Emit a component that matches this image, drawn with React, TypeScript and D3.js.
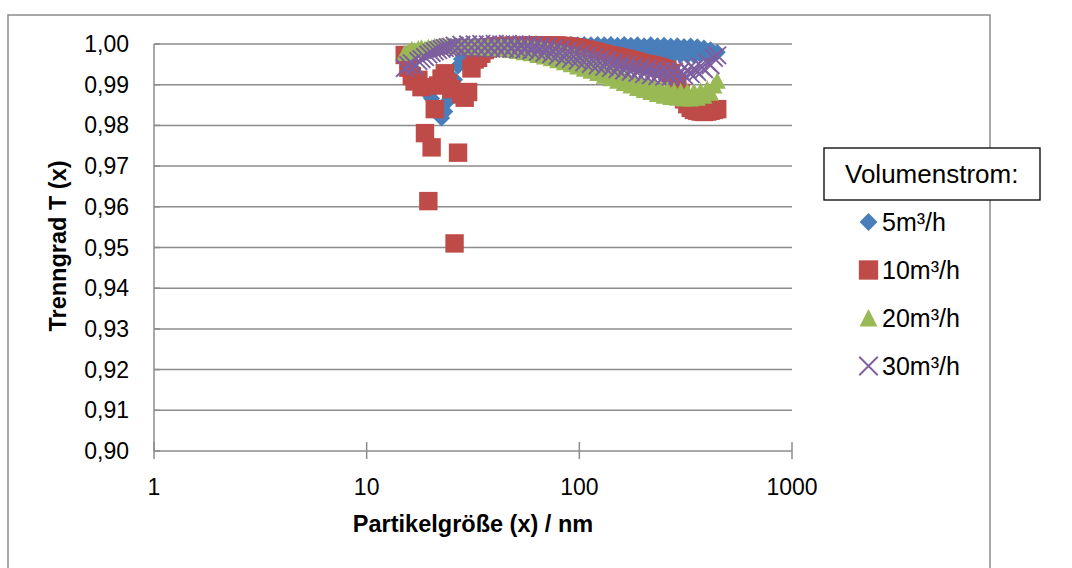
import React from 'react';
import * as d3 from 'd3';

// Particle size channels (nm)
const sizes = [
  15.1, 15.7, 16.3, 16.8, 17.5, 18.1, 18.8, 19.5, 20.2, 20.9,
  21.7, 22.5, 23.3, 24.1, 25.0, 25.9, 26.9, 27.9, 28.9, 30.0,
  31.1, 32.2, 33.4, 34.6, 35.9, 37.2, 38.5, 40.0, 41.4, 42.9,
  44.5, 46.1, 47.8, 49.6, 51.4, 53.3, 55.2, 57.3, 59.4, 61.5,
  63.8, 66.1, 68.5, 71.0, 73.7, 76.4, 79.1, 82.0, 85.1, 88.2,
  91.4, 94.7, 98.2, 101.8, 105.5, 109.4, 113.4, 117.6, 121.9, 126.3,
  131.0, 135.8, 140.7, 145.9, 151.2, 156.8, 162.5, 168.5, 174.7, 181.1,
  187.7, 194.6, 201.7, 209.1, 216.7, 224.7, 232.9, 241.4, 250.3, 259.5,
  269.0, 278.8, 289.0, 299.6, 310.6, 322.0, 333.8, 346.0, 358.7, 371.8,
  385.4, 399.5, 414.2, 429.4, 445.1,
];

// 5 m³/h
const blue5 = [
  0.9968, 0.9955, 0.9942, 0.9930, 0.9915, 0.9902, 0.9890, 0.9877, 0.9866, 0.9852,
  0.9836, 0.9818, 0.9834, 0.9860, 0.9886, 0.9912, 0.9946, 0.9963, 0.9975, 0.9983,
  0.9988, 0.9992, 0.9994, 0.9996, 0.9995, 0.9998, 0.9996, 0.9997, 0.9995, 0.9998,
  0.9996, 0.9998, 0.9995, 0.9997, 0.9999, 0.9996, 0.9998, 0.9995, 0.9999, 0.9996,
  0.9998, 0.9995, 0.9999, 0.9996, 0.9998, 0.9994, 0.9999, 0.9995, 0.9998, 0.9993,
  0.9999, 0.9994, 0.9998, 0.9992, 0.9999, 0.9993, 0.9998, 0.9991, 0.9999, 0.9990,
  0.9998, 0.9989, 0.9999, 0.9988, 0.9997, 0.9986, 0.9999, 0.9985, 0.9997, 0.9983,
  0.9998, 0.9982, 0.9996, 0.9980, 0.9998, 0.9978, 0.9996, 0.9977, 0.9997, 0.9975,
  0.9995, 0.9974, 0.9996, 0.9973, 0.9994, 0.9972, 0.9995, 0.9972, 0.9993, 0.9973,
  0.9990, 0.9974, 0.9986, 0.9976, 0.9980,
];

// 10 m³/h
const red10 = [
  0.9973, 0.9942, 0.9921, 0.9908, 0.9912, 0.9894, 0.9781, 0.9614, 0.9746, 0.9840,
  0.9898, 0.9915, 0.9928, 0.9903, 0.9889, 0.9510, 0.9733, 0.9876, 0.9868, 0.9882,
  0.9940, 0.9962, 0.9966, 0.9976, 0.9985, 0.9989, 0.9992, 0.9993, 0.9994, 0.9994,
  0.9995, 0.9995, 0.9995, 0.9995, 0.9995, 0.9995, 0.9995, 0.9996, 0.9996, 0.9996,
  0.9996, 0.9996, 0.9996, 0.9996, 0.9996, 0.9996, 0.9996, 0.9995, 0.9995, 0.9994,
  0.9993, 0.9992, 0.9990, 0.9989, 0.9987, 0.9985, 0.9983, 0.9981, 0.9979, 0.9977,
  0.9975, 0.9973, 0.9971, 0.9970, 0.9968, 0.9966, 0.9964, 0.9962, 0.9960, 0.9958,
  0.9956, 0.9953, 0.9951, 0.9950, 0.9948, 0.9946, 0.9944, 0.9941, 0.9939, 0.9936,
  0.9929, 0.9915, 0.9898, 0.9880, 0.9864, 0.9852, 0.9843, 0.9838, 0.9836, 0.9834,
  0.9833, 0.9834, 0.9836, 0.9838, 0.9840,
];

// 20 m³/h
const green20 = [
  0.9978, 0.9982, 0.9987, 0.9984, 0.9989, 0.9991, 0.9988, 0.9992, 0.9991, 0.9994,
  0.9993, 0.9996, 0.9994, 0.9997, 0.9995, 0.9997, 0.9995, 0.9998, 0.9994, 0.9997,
  0.9993, 0.9998, 0.9992, 0.9997, 0.9991, 0.9997, 0.9990, 0.9996, 0.9989, 0.9995,
  0.9987, 0.9994, 0.9985, 0.9993, 0.9983, 0.9991, 0.9980, 0.9990, 0.9977, 0.9988,
  0.9973, 0.9986, 0.9969, 0.9983, 0.9965, 0.9980, 0.9960, 0.9977, 0.9955, 0.9973,
  0.9950, 0.9968, 0.9945, 0.9963, 0.9939, 0.9958, 0.9934, 0.9952, 0.9929, 0.9946,
  0.9922, 0.9938, 0.9916, 0.9931, 0.9910, 0.9925, 0.9904, 0.9919, 0.9898, 0.9913,
  0.9892, 0.9907, 0.9887, 0.9901, 0.9882, 0.9896, 0.9877, 0.9892, 0.9873, 0.9889,
  0.9870, 0.9886, 0.9868, 0.9884, 0.9866, 0.9883, 0.9866, 0.9883, 0.9868, 0.9885,
  0.9873, 0.9890, 0.9880, 0.9898, 0.9910,
];

// 30 m³/h
const purple30 = [
  0.9941, 0.9948, 0.9953, 0.9946, 0.9958, 0.9963, 0.9968, 0.9974, 0.9978, 0.9982,
  0.9985, 0.9988, 0.9990, 0.9992, 0.9993, 0.9996, 0.9992, 0.9998, 0.9992, 0.9999,
  0.9991, 0.9999, 0.9990, 1.0000, 0.9990, 0.9999, 0.9989, 1.0000, 0.9989, 0.9999,
  0.9989, 1.0000, 0.9988, 0.9999, 0.9987, 0.9999, 0.9986, 0.9998, 0.9984, 0.9997,
  0.9981, 0.9995, 0.9978, 0.9993, 0.9975, 0.9990, 0.9971, 0.9987, 0.9967, 0.9983,
  0.9963, 0.9980, 0.9959, 0.9976, 0.9955, 0.9972, 0.9951, 0.9968, 0.9947, 0.9964,
  0.9944, 0.9960, 0.9941, 0.9956, 0.9938, 0.9952, 0.9935, 0.9949, 0.9932, 0.9945,
  0.9929, 0.9942, 0.9926, 0.9939, 0.9923, 0.9936, 0.9921, 0.9934, 0.9920, 0.9932,
  0.9920, 0.9932, 0.9921, 0.9933, 0.9923, 0.9936, 0.9926, 0.9940, 0.9931, 0.9946,
  0.9938, 0.9955, 0.9948, 0.9966, 0.9972,
];

const seriesNames = ['5m³/h', '10m³/h', '20m³/h', '30m³/h'];
const seriesColors = ['#4A7EBB', '#BE4B48', '#98B954', '#7D5FA0'];
const xTicks = [1, 10, 100, 1000];
const yTicks = [0.9, 0.91, 0.92, 0.93, 0.94, 0.95, 0.96, 0.97, 0.98, 0.99, 1.0];

const FONT = '"Liberation Sans", Arial, sans-serif';

type Shape = 'diamond' | 'square' | 'triangle' | 'x';
const shapes: Shape[] = ['diamond', 'square', 'triangle', 'x'];

function Marker({ shape, cx, cy, color, s = 1 }: { shape: Shape; cx: number; cy: number; color: string; s?: number }) {
  if (shape === 'diamond') {
    const h = 8.5 * s;
    return <path d={`M${cx},${cy - h}L${cx + h},${cy}L${cx},${cy + h}L${cx - h},${cy}Z`} fill={color} />;
  }
  if (shape === 'square') {
    const h = 9.2 * s;
    return <rect x={cx - h} y={cy - h} width={2 * h} height={2 * h} fill={color} />;
  }
  if (shape === 'triangle') {
    const w = 8.5 * s;
    return <path d={`M${cx},${cy - 8.5 * s}L${cx + w},${cy + 8 * s}L${cx - w},${cy + 8 * s}Z`} fill={color} />;
  }
  const h = 8.8 * s;
  return (
    <path
      d={`M${cx - h},${cy - h}L${cx + h},${cy + h}M${cx - h},${cy + h}L${cx + h},${cy - h}`}
      stroke={color}
      strokeWidth={1.9}
      fill="none"
    />
  );
}

export default function App() {
  const x = d3.scaleLog().domain([1, 1000]).range([154, 792]);
  const y = d3.scaleLinear().domain([0.9, 1.0]).range([451, 44]);
  const fmt = (v: number) => d3.format('.2f')(v).replace('.', ',');
  const allSeries = [blue5, red10, green20, purple30];
  const grid = '#8C8C8C';

  return (
    <svg
      width={1072}
      height={568}
      style={{ position: 'absolute', left: 0, top: 0, background: '#fff' }}
    >
      <rect x={0} y={0} width={1072} height={568} fill="#fff" />
      {/* outer chart frame */}
      <rect x={8} y={15} width={982} height={600} fill="none" stroke="#8C8C8C" strokeWidth={1.5} />

      {/* gridlines */}
      {yTicks.map((t) => (
        <line key={'g' + t} x1={154} x2={792} y1={y(t)} y2={y(t)} stroke={grid} strokeWidth={1.5} />
      ))}
      {/* y axis */}
      <line x1={154} x2={154} y1={y(1.0)} y2={y(0.9)} stroke={grid} strokeWidth={1.5} />
      {yTicks.map((t) => (
        <line key={'yt' + t} x1={154} x2={160} y1={y(t)} y2={y(t)} stroke={grid} strokeWidth={1.5} />
      ))}
      {/* x ticks */}
      {xTicks.map((t) => (
        <line key={'xt' + t} x1={x(t)} x2={x(t)} y1={y(0.9) - 9} y2={y(0.9) + 8} stroke={grid} strokeWidth={1.5} />
      ))}

      {/* y tick labels */}
      {yTicks.map((t) => (
        <text key={'yl' + t} x={129} y={y(t) + 8} textAnchor="end" fontFamily={FONT} fontSize={23} fill="#000">
          {fmt(t)}
        </text>
      ))}
      {/* x tick labels */}
      {xTicks.map((t) => (
        <text key={'xl' + t} x={x(t)} y={495} textAnchor="middle" fontFamily={FONT} fontSize={23} fill="#000">
          {String(t)}
        </text>
      ))}

      {/* axis titles */}
      <text x={473} y={532} textAnchor="middle" fontFamily={FONT} fontSize={23.5} fontWeight="bold" fill="#000">
        Partikelgröße (x) / nm
      </text>
      <text
        transform={`translate(66,246) rotate(-90)`}
        textAnchor="middle"
        fontFamily={FONT}
        fontSize={23.5}
        fontWeight="bold"
        fill="#000"
      >
        Trenngrad T (x)
      </text>

      {/* data */}
      {allSeries.map((vals, si) => (
        <g key={'s' + si}>
          {vals.map((v, i) => (
            <Marker key={i} shape={shapes[si]} cx={x(sizes[i])} cy={y(v)} color={seriesColors[si]} />
          ))}
        </g>
      ))}

      {/* legend */}
      <rect x={824} y={148} width={216} height={52} fill="#fff" stroke="#000" strokeWidth={1.3} />
      <text x={845} y={183} fontFamily={FONT} fontSize={26} fill="#000">
        Volumenstrom:
      </text>
      {seriesNames.map((n, i) => {
        const cy = 222 + i * 48;
        return (
          <g key={'l' + i}>
            <Marker shape={shapes[i]} cx={868.5} cy={cy} color={seriesColors[i]} s={1.05} />
            <text x={882} y={cy + 9} fontFamily={FONT} fontSize={25} fill="#000">
              {n}
            </text>
          </g>
        );
      })}
    </svg>
  );
}
